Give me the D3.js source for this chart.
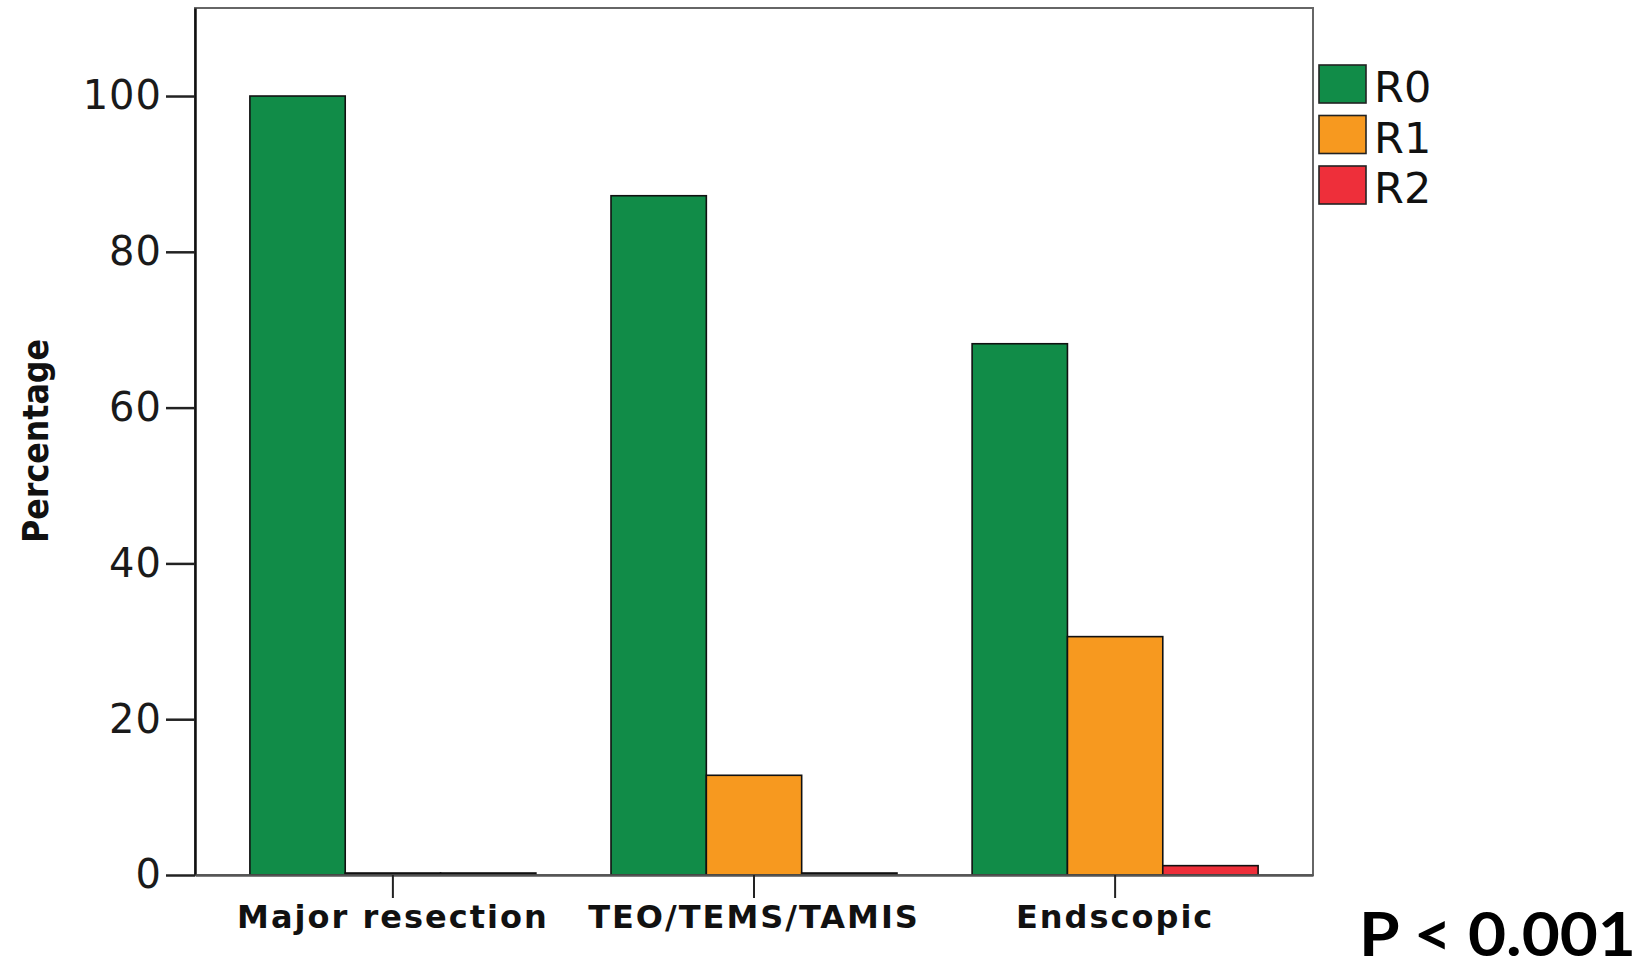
<!DOCTYPE html>
<html>
<head>
<meta charset="utf-8">
<script src="https://cdn.jsdelivr.net/npm/d3@7"></script>
<style>
  body { margin: 0; background: #fff; }
  svg { display: block; }
</style>
</head>
<body>
<svg></svg>
<script>
/* chart data */
var categories = ["Major resection", "TEO/TEMS/TAMIS", "Endscopic"];
var seriesNames = ["R0", "R1", "R2"];
var seriesColors = ["#118c48", "#f7991f", "#ee2f3a"];
var r0Values = [100, 87.2, 68.2];
var r1Values = [0, 12.8, 30.6];
var r2Values = [0, 0, 1.2];
var yTicks = [0, 20, 40, 60, 80, 100];
var yLabel = "Percentage";
var pText = "P < 0.001";

var seriesValues = [r0Values, r1Values, r2Values];

/* svg setting */
var svgWidth = 1652;
var svgHeight = 968;
var plot = {left: 195, right: 1313, top: 8, bottom: 875};

var svg = d3.select("svg")
    .attr("width", svgWidth)
    .attr("height", svgHeight);

var scale = {};
scale.x = d3.scaleBand()
    .domain(categories)
    .range([plot.left, plot.right])
    .paddingInner(0.208)
    .paddingOuter(0.152);

scale.xInner = d3.scaleBand()
    .domain(seriesNames)
    .range([0, scale.x.bandwidth()])
    .padding(0);

scale.y = d3.scaleLinear()
    .domain([0, 111.3])
    .range([plot.bottom, plot.top]);

scale.color = d3.scaleOrdinal()
    .domain(seriesNames)
    .range(seriesColors);

// frame (top / right)
svg.append("rect")
    .attr("x", plot.left)
    .attr("y", plot.top)
    .attr("width", plot.right - plot.left)
    .attr("height", plot.bottom - plot.top)
    .attr("fill", "none")
    .attr("stroke", "#666")
    .attr("stroke-width", 2);

/* bars */
var rows = categories.map(function(c, i){
  return {cat: c, bars: seriesNames.map(function(s, j){
    return {name: s, value: seriesValues[j][i]};
  })};
});

var groups = svg.append("g").selectAll("g")
    .data(rows)
    .enter()
    .append("g")
    .attr("transform", function(d){ return translate(scale.x(d.cat), 0); });

// zero bars still get a flat outline on the baseline, like the original
groups.selectAll("rect")
    .data(function(d){ return d.bars; })
    .enter()
    .append("rect")
    .attr("x", function(d){ return scale.xInner(d.name); })
    .attr("y", function(d){ return Math.min(scale.y(d.value), plot.bottom - 2); })
    .attr("width", scale.xInner.bandwidth())
    .attr("height", function(d){ return Math.max(plot.bottom - scale.y(d.value), 2); })
    .attr("fill", function(d){ return d.value > 0 ? scale.color(d.name) : "#111"; })
    .attr("stroke", "#111")
    .attr("stroke-width", 1.6);

/* axes */
var yAxis = svg.append("g")
    .attr("transform", translate(plot.left, 0))
    .call(d3.axisLeft(scale.y).tickValues(yTicks).tickSize(29).tickSizeOuter(0).tickPadding(4));
yAxis.select(".domain").attr("stroke", "#111").attr("stroke-width", 2.5);
yAxis.selectAll(".tick line").attr("stroke", "#222").attr("stroke-width", 2.5);
yAxis.selectAll(".tick text")
    .attr("font-family", "DejaVu Sans")
    .attr("font-size", 40)
    .attr("letter-spacing", 1)
    .attr("fill", "#1a1a1a");

var xAxis = svg.append("g")
    .attr("transform", translate(0, plot.bottom))
    .call(d3.axisBottom(scale.x).tickSize(23).tickPadding(7).tickSizeOuter(0));
xAxis.select(".domain").attr("stroke", "#555").attr("stroke-width", 2.5);
xAxis.selectAll(".tick line").attr("stroke", "#222").attr("stroke-width", 2);
xAxis.selectAll(".tick text")
    .attr("font-family", "DejaVu Sans")
    .attr("font-weight", "bold")
    .attr("font-size", 32)
    .attr("letter-spacing", 2)
    .attr("fill", "#111");

// y axis title
svg.append("text")
    .attr("transform", translate(48, 441) + " rotate(-90)")
    .attr("text-anchor", "middle")
    .attr("font-family", "DejaVu Sans")
    .attr("font-weight", "bold")
    .attr("font-size", 35)
    .attr("textLength", 204)
    .attr("lengthAdjust", "spacingAndGlyphs")
    .attr("fill", "#111")
    .text(yLabel);

/* legend */
var legend = svg.append("g").selectAll("g")
    .data(seriesNames)
    .enter()
    .append("g")
    .attr("transform", function(d, i){ return translate(1319, 65 + i * 50.5); });

legend.append("rect")
    .attr("width", 47)
    .attr("height", 38)
    .attr("fill", function(d){ return scale.color(d); })
    .attr("stroke", "#222")
    .attr("stroke-width", 1.6);

legend.append("text")
    .attr("x", 55)
    .attr("y", 37)
    .attr("font-family", "DejaVu Sans")
    .attr("font-size", 43)
    .attr("fill", "#111")
    .text(function(d){ return d; });

// p value note
svg.append("text")
    .attr("x", 1359)
    .attr("y", 956)
    .attr("font-family", "Lato")
    .attr("font-weight", "bold")
    .attr("font-size", 62)
    .attr("textLength", 277)
    .attr("lengthAdjust", "spacingAndGlyphs")
    .attr("fill", "#000")
    .text(pText);

function translate(x, y) {
    return "translate(" + x + "," + y + ")";
}
</script>
</body>
</html>
